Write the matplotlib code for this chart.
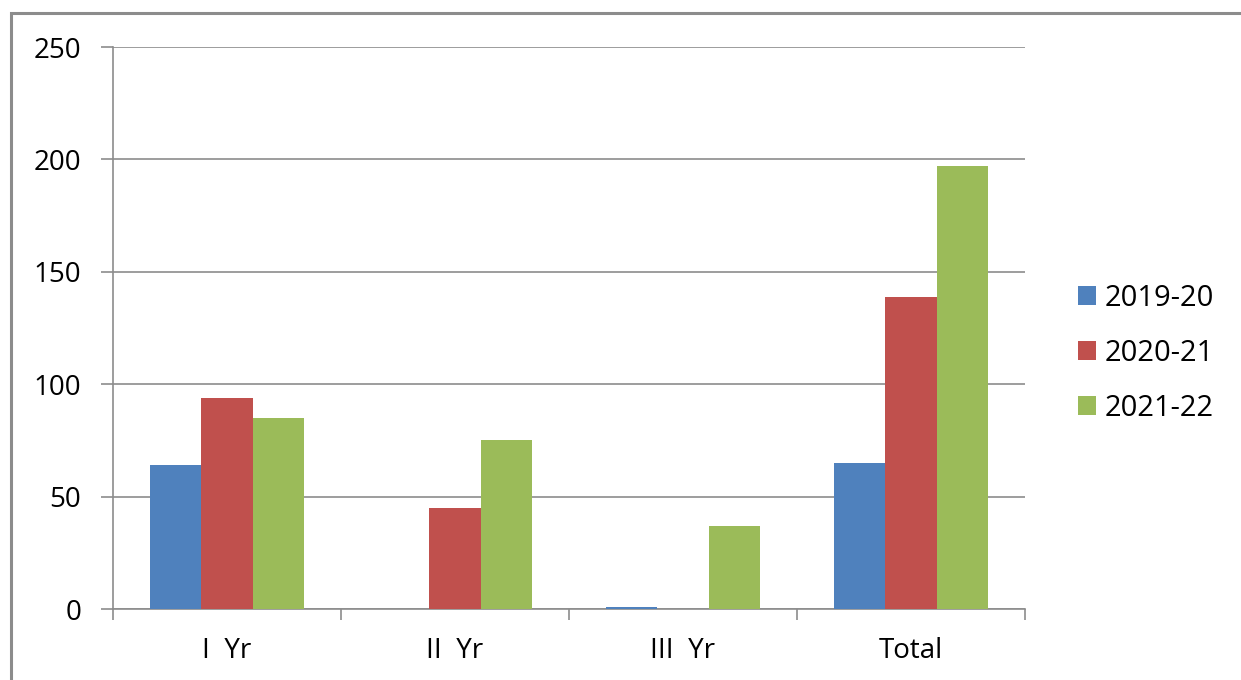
import matplotlib
matplotlib.use("Agg")
import matplotlib.pyplot as plt
import numpy as np
from matplotlib.patches import Rectangle

categories = ["I  Yr", "II  Yr", "III  Yr", "Total"]
series_names = ["2019-20", "2020-21", "2021-22"]
values_2019_20 = [64, 0, 1, 65]
values_2020_21 = [94, 45, 0, 139]
values_2021_22 = [85, 75, 37, 197]
colors = ["#4F81BD", "#C0504D", "#9BBB59"]
yticks = [0, 50, 100, 150, 200, 250]

plt.rcParams['font.family'] = ['Open Sans', 'DejaVu Sans']

fig = plt.figure(figsize=(12.41, 6.8), dpi=100)
fig.patch.set_facecolor("white")
# outer chart border
fig.patches.append(Rectangle((11/1241, -0.05), 1.2, (680-13)/680 + 0.05,
                             transform=fig.transFigure, fill=False,
                             edgecolor="#8C8C8C", linewidth=2.2))

ax = fig.add_axes([113/1241, 71/680, 912/1241, 562/680])
x = np.arange(len(categories))
w = 0.225
series = [values_2019_20, values_2020_21, values_2021_22]
for i, (vals, name, c) in enumerate(zip(series, series_names, colors)):
    ax.bar(x + (i - 1) * w, vals, width=w, color=c, label=name, zorder=3,
           edgecolor="none")

ax.set_xlim(-0.5, len(categories) - 0.5)
ax.set_ylim(0, 250)
ax.set_yticks(yticks)
ax.set_yticklabels([str(t) for t in yticks])
ax.yaxis.grid(True, color="#8C8C8C", linewidth=1.2, zorder=0)
ax.set_axisbelow(True)

ax.set_xticks(np.arange(-0.5, len(categories)), minor=False)
ax.set_xticklabels([])
ax.set_xticks(x, minor=True)
ax.set_xticklabels(categories, minor=True)
ax.tick_params(axis='x', which='major', length=8, width=1.2, color="#8C8C8C", direction='out')
ax.tick_params(axis='x', which='minor', length=0, pad=20, labelsize=20)
ax.tick_params(axis='y', length=9, width=1.2, color="#8C8C8C", direction='out',
               pad=14, labelsize=20)

for s in ["top", "right"]:
    ax.spines[s].set_visible(False)
for s in ["left", "bottom"]:
    ax.spines[s].set_color("#8C8C8C")
    ax.spines[s].set_linewidth(1.2)

leg = ax.legend(loc="center left", bbox_to_anchor=(1.058, 0.455), frameon=False,
                fontsize=21, handlelength=0.62, handleheight=0.62, handletextpad=0.28,
                labelspacing=0.89, borderpad=0, borderaxespad=0)

fig.savefig("out.png", dpi=100, facecolor="white")
